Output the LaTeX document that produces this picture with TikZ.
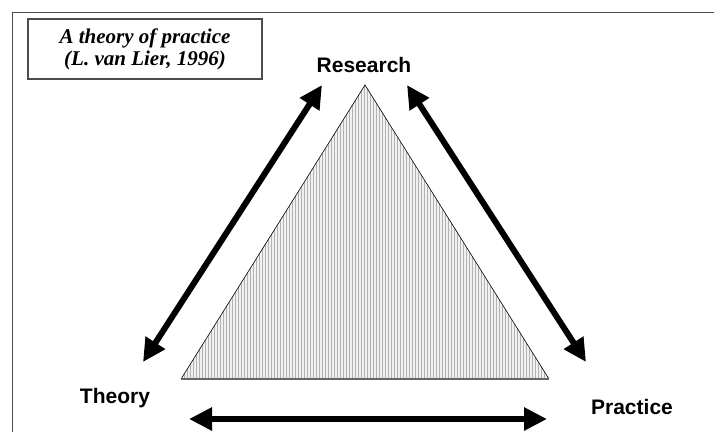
\documentclass[tikz,border=0pt]{standalone}
\usepackage{fontspec}
\setmainfont{Liberation Serif}
\setsansfont{Liberation Sans}
\usetikzlibrary{arrows.meta}
\tikzset{
  corner/.style={font=\sffamily\bfseries\fontsize{21}{24}\selectfont, inner sep=0pt},
  bigarrow/.style={line width=6pt, {Triangle[length=23pt,width=22pt]}-{Triangle[length=23pt,width=22pt]}},
  frameline/.style={draw=black!70, line width=1.8pt}
}
\begin{document}
\begin{tikzpicture}[x=1pt,y=-1pt]
  \useasboundingbox[fill=white] (0,0) rectangle (714,432);
  % outer frame (runs off the right and bottom edges)
  \draw[frameline] (12.5,432) -- (12.5,12.5) -- (714,12.5);
  % title box
  \node[draw=black!70, line width=1.6pt, minimum width=234pt, minimum height=60pt, inner sep=0pt,
        align=center, font=\bfseries\itshape\fontsize{21}{22}\selectfont]
    (title) at (145,49) {A theory of practice\\(L. van Lier, 1996)};
  % triangle corners
  \coordinate (apex) at (365,85);
  \coordinate (bl) at (181,379);
  \coordinate (br) at (549,379);
  % striped triangle
  \begin{scope}
    \clip (apex) -- (bl) -- (br) -- cycle;
    \fill[black!6] (181,85) rectangle (549,379);
    \foreach \i in {0,...,123} {
      \draw[black!30, line width=0.8pt] (181+3*\i,85) -- (181+3*\i,379);
    }
  \end{scope}
  \draw[line width=0.6pt] (bl) -- (apex) -- (br);
  \draw[black!60, line width=1.4pt] (bl) -- (br);
  % labels
  \node[corner, anchor=base] (research) at (364,72) {Research};
  \node[corner, anchor=base] (theory) at (115,403) {Theory};
  \node[corner, anchor=base] (practice) at (632,414) {Practice};
  % arrow end points
  \coordinate (lt) at (322,85);
  \coordinate (lb) at (143,362);
  \coordinate (rt) at (407,85);
  \coordinate (rb) at (586,362);
  \coordinate (bL) at (189,419);
  \coordinate (bR) at (547,419);
  \draw[bigarrow] (lb) -- (lt);
  \draw[bigarrow] (rt) -- (rb);
  \draw[bigarrow] (bL) -- (bR);
\end{tikzpicture}
\end{document}
